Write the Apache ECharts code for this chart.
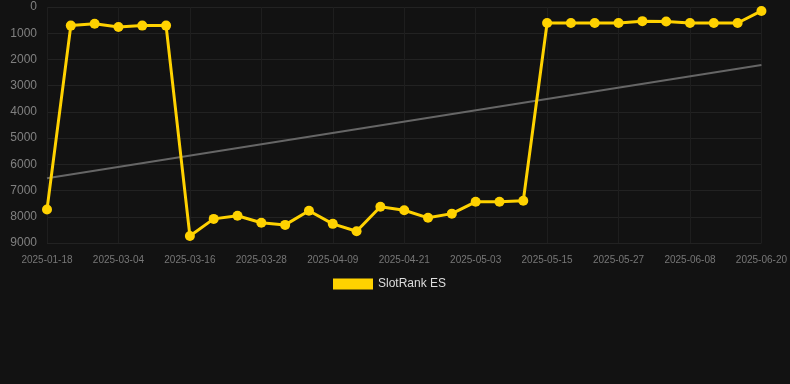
<!DOCTYPE html>
<html>
<head>
<meta charset="utf-8">
<script src="https://cdn.jsdelivr.net/npm/echarts@6/dist/echarts.min.js"></script>
<style>
  html, body { margin: 0; padding: 0; background: #121212; }
  #chartRank { width: 790px; height: 384px; }
</style>
</head>
<body>
<div id="chartRank"></div>
<script>
// rank over time, dates as categories
var dates = ['2025-01-18', '2025-02-24', '2025-02-28', '2025-03-04', '2025-03-08', '2025-03-12',
	'2025-03-16', '2025-03-20', '2025-03-24', '2025-03-28', '2025-04-01', '2025-04-05',
	'2025-04-09', '2025-04-13', '2025-04-17', '2025-04-21', '2025-04-25', '2025-04-29',
	'2025-05-03', '2025-05-07', '2025-05-11', '2025-05-15', '2025-05-19', '2025-05-23',
	'2025-05-27', '2025-05-31', '2025-06-04', '2025-06-08', '2025-06-12', '2025-06-16',
	'2025-06-20'];
var rankES = [7720, 710, 640, 760, 710, 710,
	8730, 8080, 7960, 8230, 8310, 7770,
	8270, 8550, 7620, 7750, 8040, 7880,
	7430, 7430, 7390, 610, 610, 610,
	610, 540, 550, 610, 610, 610,
	150];
// trend line, only ends
var trend = [6530, null, null, null, null, null, null, null, null, null, null, null, null, null, null, null,
	null, null, null, null, null, null, null, null, null, null, null, null, null, null, 2210];

var chart_rank = echarts.init(document.getElementById('chartRank'));
chart_rank.setOption({
	backgroundColor: '#121212',
	animation: false,
	legend: {
		data: ['SlotRank ES'],
		top: 273,
		left: 328,
		itemWidth: 40,
		itemHeight: 11,
		icon: 'rect',
		textStyle: {
			color: '#dddddd',
			fontSize: 12
		}
	},
	grid: {
		left: 47,
		right: 28,
		top: 7,
		bottom: 141
	},
	xAxis: {
		type: 'category',
		data: dates,
		boundaryGap: false,
		axisLine: { show: false },
		axisTick: { show: false },
		axisLabel: {
			interval: 2,
			color: '#777777',
			fontSize: 10,
			margin: 12
		},
		splitLine: {
			show: true,
			interval: 2,
			lineStyle: { color: '#1e1e1e' }
		}
	},
	yAxis: {
		type: 'value',
		inverse: true,
		min: 0,
		max: 9000,
		interval: 1000,
		axisLine: { show: false },
		axisTick: { show: false },
		axisLabel: {
			color: '#808080',
			fontSize: 12,
			margin: 10,
			formatter: function (v) { return String(v); }
		},
		splitLine: {
			lineStyle: { color: '#222222' }
		}
	},
	series: [{
		name: 'SlotRank ES',
		type: 'line',
		data: rankES,
		symbol: 'circle',
		symbolSize: 10,
		lineStyle: { color: '#ffd200', width: 3 },
		itemStyle: { color: '#ffd200' },
		z: 3
	}, {
		name: 'trend',
		type: 'line',
		data: trend,
		connectNulls: true,
		symbol: 'none',
		lineStyle: { color: '#666666', width: 2 },
		itemStyle: { color: '#666666' },
		z: 2
	}]
});
</script>
</body>
</html>
